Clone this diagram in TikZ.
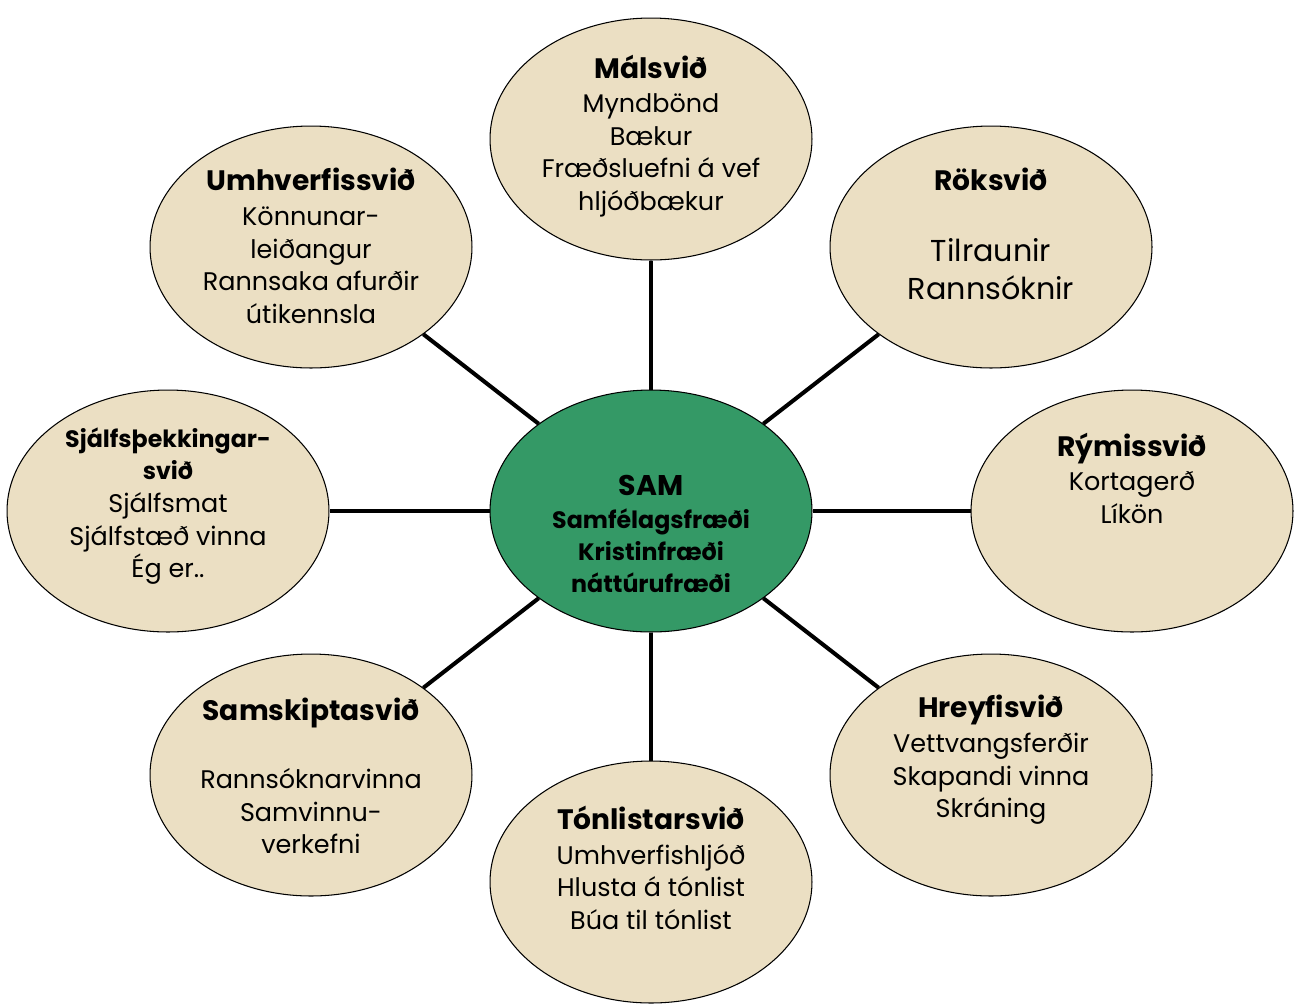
\documentclass[tikz,border=0pt]{standalone}
\usepackage{fontspec}
\setmainfont{Poppins}
\usepackage{tikz}
\usetikzlibrary{shapes.geometric}

\definecolor{parch}{RGB}{235,223,195}
\definecolor{samgreen}{RGB}{52,153,102}

\newcommand{\bodyfont}{\fontsize{14.5}{18.6}\selectfont}
\newcommand{\headfont}{\bfseries\fontsize{16}{18.6}\selectfont}
\newcommand{\smallhead}{\bfseries\fontsize{13.5}{18.6}\selectfont}

\tikzset{
    bubble/.style={ellipse, draw, line width=0.6pt, fill=parch, inner sep=0pt,
        minimum width=6.44cm, minimum height=4.84cm},
    hub/.style={bubble, fill=samgreen},
    txt/.style={align=center, inner sep=0pt, font=\bodyfont},
    link/.style={line width=2.3pt}
}

\begin{document}
\begin{tikzpicture}[x=0.02cm, y=-0.02cm]
        \useasboundingbox (0,0) rectangle (1294,1005);
        \node [hub] (sam) at (651,511) {};
        \node [bubble] (mal) at (651,139) {};
        \node [bubble] (umh) at (311,247) {};
        \node [bubble] (rok) at (991,247) {};
        \node [bubble] (sja) at (168,511) {};
        \node [bubble] (rym) at (1132,511) {};
        \node [bubble] (sks) at (311,775) {};
        \node [bubble] (hre) at (991,775) {};
        \node [bubble] (ton) at (651,882) {};
        \draw [link] (sam) -- (mal);
        \draw [link] (sam) -- (umh);
        \draw [link] (sam) -- (rok);
        \draw [link] (sam) -- (sja);
        \draw [link] (sam) -- (rym);
        \draw [link] (sam) -- (sks);
        \draw [link] (sam) -- (hre);
        \draw [link] (sam) -- (ton);
        \node [txt, font=\bfseries\fontsize{13.5}{18.2}\selectfont] (sam-t) at (651,534)
            {{\fontsize{16.2}{18.2}\selectfont SAM}\\[1pt]Samfélagsfræði\\Kristinfræði\\náttúrufræði};
        \node [txt] (mal-t) at (651,136)
            {{\headfont Málsvið}\\[1pt]Myndbönd\\Bækur\\Fræðsluefni á vef\\hljóðbækur};
        \node [txt] (umh-t) at (311,246)
            {{\headfont Umhverfissvið}\\[1pt]Könnunar-\\leiðangur\\Rannsaka afurðir\\útikennsla};
        \node [txt, font=\fontsize{17.2}{21.5}\selectfont] (rok-t) at (991,234)
            {{\headfont Röksvið}\\[19pt]Tilraunir\\Rannsóknir};
        \node [txt] (sja-t) at (168,506)
            {{\smallhead Sjálfsþekkingar-}\\{\smallhead svið}\\Sjálfsmat\\Sjálfstæð vinna\\Ég er..};
        \node [txt] (rym-t) at (1132,478)
            {{\headfont Rýmissvið}\\[1pt]Kortagerð\\Líkön};
        \node [txt] (sks-t) at (311,776)
            {{\headfont Samskiptasvið}\\[20pt]Rannsóknarvinna\\Samvinnu-\\verkefni};
        \node [txt] (hre-t) at (991,760)
            {{\headfont Hreyfisvið}\\[1pt]Vettvangsferðir\\Skapandi vinna\\Skráning};
        \node [txt] (ton-t) at (651,868)
            {{\headfont Tónlistarsvið}\\[1pt]Umhverfishljóð\\Hlusta á tónlist\\Búa til tónlist};
\end{tikzpicture}
\end{document}
